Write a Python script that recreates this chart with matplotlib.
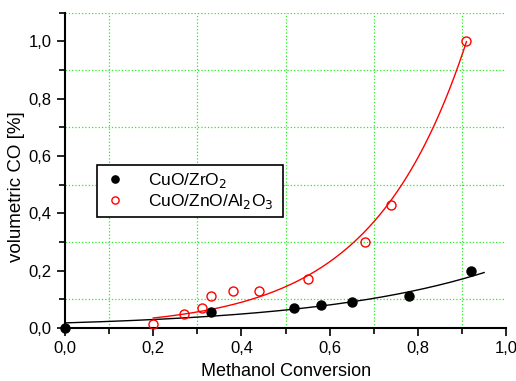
import numpy as np
import matplotlib
matplotlib.use("Agg")
import matplotlib.pyplot as plt
from matplotlib.ticker import MultipleLocator, FuncFormatter

plt.rcParams['font.family'] = ['Liberation Sans', 'DejaVu Sans']

# CuO/ZrO2
zr_x = [0.0, 0.33, 0.52, 0.58, 0.65, 0.78, 0.92]
zr_y = [0.0, 0.055, 0.07, 0.08, 0.09, 0.11, 0.20]
# CuO/ZnO/Al2O3
al_x = [0.20, 0.27, 0.31, 0.33, 0.38, 0.44, 0.55, 0.68, 0.74, 0.91]
al_y = [0.015, 0.05, 0.07, 0.11, 0.13, 0.13, 0.17, 0.30, 0.43, 1.00]

# exponential fits y = a*exp(b*(x - x0)) drawn from x0 to x1
zr_fit = (0.018, 2.5, 0.0, 0.95)
al_fit = (0.035, 4.72, 0.20, 0.91)

fig = plt.figure(figsize=(5.16, 3.81), dpi=100)
ax = fig.add_axes([0.126, 0.139, 0.855, 0.828])

for (a, b, x0, x1), c in [(zr_fit, 'black'), (al_fit, 'red')]:
    xs = np.linspace(x0, x1, 200)
    ax.plot(xs, a * np.exp(b * (xs - x0)), color=c, lw=1, zorder=3)

ax.plot(zr_x, zr_y, 'o', color='black', ms=6.5, ls='none', label='CuO/ZrO$_2$', zorder=4, clip_on=False)
ax.plot(al_x, al_y, 'o', mfc='none', mec='red', mew=1, ms=6.5, ls='none',
        label='CuO/ZnO/Al$_2$O$_3$', zorder=4, clip_on=False)

ax.set_xlim(0, 1.0)
ax.set_ylim(0, 1.1)
ax.xaxis.set_major_locator(MultipleLocator(0.2))
ax.xaxis.set_minor_locator(MultipleLocator(0.1))
ax.yaxis.set_minor_locator(MultipleLocator(0.1))
ax.set_yticks([0, 0.2, 0.4, 0.6, 0.8, 1.0])
fmt = FuncFormatter(lambda v, p: ('%.1f' % v).replace('.', ','))
ax.xaxis.set_major_formatter(fmt)
ax.yaxis.set_major_formatter(fmt)
ax.tick_params(which='major', direction='out', length=6, width=1.2, labelsize=12)
ax.tick_params(which='minor', direction='out', length=4, width=1.2)

ax.grid(False, which='major')
ax.grid(True, which='minor', color='#22ee22', ls=':', lw=0.9)
for s in ['top', 'right']:
    ax.spines[s].set_visible(False)
for s in ['left', 'bottom']:
    ax.spines[s].set_linewidth(1.5)

ax.set_xlabel('Methanol Conversion', fontsize=13, labelpad=5)
ax.set_ylabel('volumetric CO [%]', fontsize=13.5)
ax.yaxis.set_label_coords(-0.09, 0.447)

leg = ax.legend(loc='upper left', bbox_to_anchor=(0.073, 0.517 - 0.3, 0.422, 0.3),
                mode='expand', borderaxespad=0,
                fontsize=12.5, frameon=True, fancybox=False, edgecolor='black',
                framealpha=1, markerscale=0.8, handletextpad=1.3, borderpad=0.35,
                labelspacing=0.1, handlelength=1.3)
leg.get_frame().set_linewidth(1.2)

fig.savefig('out.png', dpi=100)
